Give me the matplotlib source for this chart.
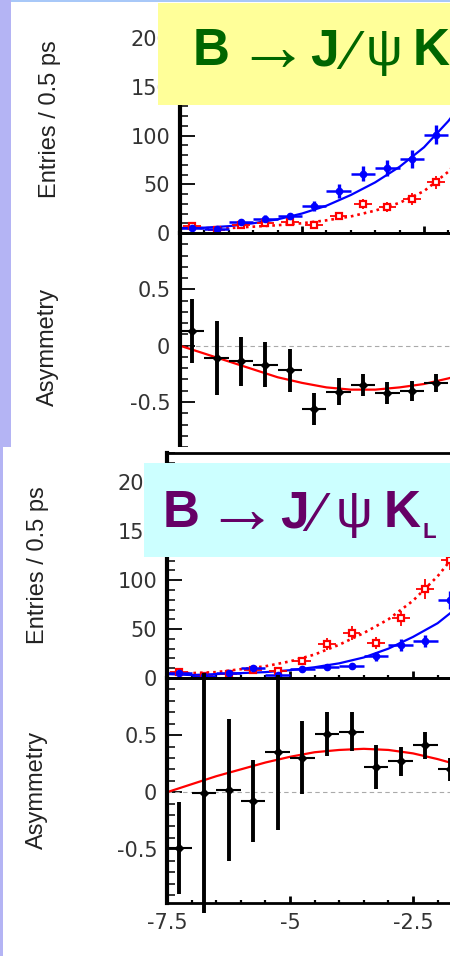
import numpy as np
import matplotlib
matplotlib.use('Agg')
import matplotlib.pyplot as plt
from matplotlib.patches import Rectangle
from matplotlib.ticker import MultipleLocator
from matplotlib import font_manager

plt.rcParams['axes.unicode_minus'] = False

# ---- B -> J/psi K_S (upper block), entries per 0.5 ps bin ----
ks_bins = [-7.25, -6.75, -6.25, -5.75, -5.25, -4.75, -4.25, -3.75, -3.25, -2.75, -2.25]
ks_blue = [5, 4, 11, 14, 17, 28, 43, 61, 67, 76, 101]
ks_blue_err = [2, 2, 3, 4, 4, 5, 7, 8, 8, 9, 10]
ks_red = [7, 3, 8, 10, 11, 8, 17, 30, 27, 35, 52]
ks_red_err = [3, 2, 3, 3, 3, 3, 4, 5, 5, 6, 7]
ks_asym = [0.13, -0.11, -0.14, -0.17, -0.22, -0.56, -0.41, -0.35, -0.42, -0.40, -0.33]
ks_asym_err = [0.28, 0.33, 0.22, 0.20, 0.19, 0.14, 0.12, 0.10, 0.10, 0.09, 0.08]

# fit curves at these dt values
fit_dt = [-7.5, -7.0, -6.5, -6.0, -5.5, -5.0, -4.5, -4.0, -3.5, -3.0, -2.5, -2.0, -1.5]
ks_fit_blue = [5, 5.5, 7, 10, 14, 20, 28, 39, 52, 68, 88, 115, 148]
ks_fit_red = [5, 5, 5, 6.5, 8, 10, 13, 17, 23, 31, 43, 63, 93]
ks_fit_asym = [0, -0.07, -0.14, -0.21, -0.28, -0.33, -0.37, -0.39, -0.39, -0.37, -0.34, -0.29, -0.23]

# ---- B -> J/psi K_L (lower block) ----
kl_bins = [-7.25, -6.75, -6.25, -5.75, -5.25, -4.75, -4.25, -3.75, -3.25, -2.75, -2.25, -1.75]
kl_blue = [5, 2, 5, 10, 3, 9, 11, 12, 22, 34, 38, 80]
kl_blue_err = [2, 1, 2, 3, 2, 3, 3, 3, 5, 6, 6, 9]
kl_red = [6, 2, 4, 8, 7, 17, 35, 46, 36, 61, 91, 121]
kl_red_err = [2, 1, 2, 3, 3, 4, 6, 7, 6, 8, 10, 11]
kl_asym = [-0.49, -0.01, 0.02, -0.08, 0.35, 0.30, 0.51, 0.53, 0.22, 0.27, 0.41, 0.20]
kl_asym_err = [0.40, 1.05, 0.62, 0.36, 0.68, 0.32, 0.19, 0.17, 0.19, 0.13, 0.12, 0.10]
kl_fit_blue = [4, 3, 4, 5, 6, 8, 11, 15, 21, 30, 42, 56, 76]
kl_fit_red = [5, 5, 6, 9, 12, 17, 24, 34, 46, 60, 79, 104, 135]
kl_fit_asym = [0, 0.07, 0.14, 0.20, 0.26, 0.31, 0.35, 0.37, 0.38, 0.37, 0.34, 0.29, 0.23]

entries_ticks = [0, 50, 100, 150, 200]
entries_labels = ['0', '50', '100', '150', '200']
asym_ticks = [-0.5, 0, 0.5, 1.0]
asym_labels = ['-0.5', '0', '0.5', '']
# the plot runs on past the right edge of the slide; only the visible labels are written
x_ticks = [-7.5, -5, -2.5, 0, 2.5, 5, 7.5]
x_labels = ['-7.5', '-5', '-2.5', '', '', '', '']
half_bin = 0.25

W, H = 450, 956
names = {f.name for f in font_manager.fontManager.ttflist}
narrow = 'Liberation Sans Narrow' if 'Liberation Sans Narrow' in names else 'Liberation Sans'
label_size = 20 if narrow == 'Liberation Sans Narrow' else 17


def px_box(left, top, right, bottom):
    return [left / W, 1 - bottom / H, (right - left) / W, (bottom - top) / H]


def style_axes(ax, ylim, ticks, labels, minor):
    ax.set_xlim(-7.5, 7.5)
    ax.set_ylim(*ylim)
    ax.set_facecolor('none')
    ax.set_xticks(x_ticks, x_labels)
    ax.xaxis.set_minor_locator(MultipleLocator(0.5))
    ax.set_yticks(ticks, labels)
    ax.yaxis.set_minor_locator(MultipleLocator(minor))
    ax.tick_params(axis='x', which='major', direction='in', length=5, width=2,
                   labelbottom=False, labelsize=15, pad=7, labelcolor='#333333')
    ax.tick_params(axis='x', which='minor', direction='in', length=2.2, width=1.6)
    ax.tick_params(axis='y', which='major', direction='in', length=11, width=1.3,
                   labelsize=15, pad=7, labelcolor='#333333')
    ax.tick_params(axis='y', which='minor', direction='in', length=5.5, width=1.1)
    for tl in ax.get_xticklabels() + ax.get_yticklabels():
        tl.set_family('DejaVu Sans')
    ax.spines['top'].set_linewidth(2)
    ax.spines['bottom'].set_linewidth(2)
    ax.spines['left'].set_linewidth(3)
    ax.spines['right'].set_visible(False)


def draw_entries(ax, bins, blue, blue_err, red, red_err, fit_blue, fit_red):
    ax.plot(fit_dt, fit_red, color='red', lw=1.9, ls=(0, (1, 1.5)))
    ax.plot(fit_dt, fit_blue, color='blue', lw=1.6)
    ax.errorbar(bins, red, yerr=red_err, xerr=0.18, fmt='s', ms=5, mfc='white',
                mec='red', mew=1.6, ecolor='red', elinewidth=1.3, capsize=0)
    ax.errorbar(bins, blue, yerr=blue_err, fmt='none', ecolor='blue', elinewidth=2.4)
    ax.errorbar(bins, blue, xerr=half_bin, fmt='o', ms=4.5, color='blue', elinewidth=1.8)


def draw_asym(ax, bins, asym, asym_err, fit_asym):
    ax.axhline(0, color='#aaaaaa', lw=0.8, ls=(0, (4, 3)))
    ax.plot(fit_dt, fit_asym, color='red', lw=1.6)
    eb = ax.errorbar(bins, asym, yerr=asym_err, fmt='none', ecolor='black', elinewidth=2.8)
    for c in eb[2]:
        c.set_clip_on(False)
    ax.errorbar(bins, asym, xerr=half_bin, fmt='D', ms=4, color='black', elinewidth=1.5)


fig = plt.figure(figsize=(4.5, 9.56), dpi=100)
fig.patch.set_facecolor('white')

# upper block
ax1 = fig.add_axes(px_box(180, 9, 912, 233))
ax2 = fig.add_axes(px_box(180, 233, 912, 455))
style_axes(ax1, (0, 230), entries_ticks, entries_labels, 10)
style_axes(ax2, (-0.97, 1.0), asym_ticks, asym_labels, 0.1)
draw_entries(ax1, ks_bins, ks_blue, ks_blue_err, ks_red, ks_red_err, ks_fit_blue, ks_fit_red)
draw_asym(ax2, ks_bins, ks_asym, ks_asym_err, ks_fit_asym)

# lower block sits on top of the upper one
fig.add_artist(Rectangle((3 / W, 0), 1, 1 - 447 / H, transform=fig.transFigure,
                         facecolor='white', edgecolor='none', zorder=1))
ax3 = fig.add_axes(px_box(167, 453, 905, 678), zorder=2)
ax4 = fig.add_axes(px_box(167, 678, 905, 903), zorder=2)
style_axes(ax3, (0, 230), entries_ticks, entries_labels, 10)
style_axes(ax4, (-0.97, 1.0), asym_ticks, asym_labels, 0.1)
ax4.tick_params(axis='x', labelbottom=True)
draw_entries(ax3, kl_bins, kl_blue, kl_blue_err, kl_red, kl_red_err, kl_fit_blue, kl_fit_red)
draw_asym(ax4, kl_bins, kl_asym, kl_asym_err, kl_fit_asym)

# axis titles
for x, y, s in [(50, 119, 'Entries / 0.5 ps'), (48, 347, 'Asymmetry'),
                (38, 565, 'Entries / 0.5 ps'), (37, 790, 'Asymmetry')]:
    fig.text(x / W, 1 - y / H, s, rotation=90, ha='center', va='center',
             fontsize=label_size, family=narrow, color='#222222', zorder=4)

# slide decoration
fig.add_artist(Rectangle((0, 1 - 447 / H), 11 / W, 447 / H, transform=fig.transFigure,
                         facecolor='#b4b4f4', edgecolor='none', zorder=3))
fig.add_artist(Rectangle((0, 0), 3 / W, 1 - 447 / H, transform=fig.transFigure,
                         facecolor='#b4b4f4', edgecolor='none', zorder=3))
fig.add_artist(Rectangle((11 / W, 1 - 2 / H), 1, 2 / H, transform=fig.transFigure,
                         facecolor='#a8c8f8', edgecolor='none', zorder=3))

# title boxes
fig.add_artist(Rectangle((158 / W, 1 - 105 / H), 1, 102 / H, transform=fig.transFigure,
                         facecolor='#ffff99', edgecolor='none', zorder=5))
fig.add_artist(Rectangle((144 / W, 1 - 557 / H), 1, 94 / H, transform=fig.transFigure,
                         facecolor='#ccffff', edgecolor='none', zorder=5))

title_font = ['Liberation Sans', 'DejaVu Sans']


def title(base, col, xs, sub=None):
    # pieces of "B -> J/psi K(sub)", placed along one baseline (pixels from the top)
    xb, xa, xj, xsl, xp, xk, xsub = xs
    kw = dict(color=col, family=title_font, zorder=6, va='baseline')
    fig.text(xb / W, 1 - base / H, 'B', fontsize=37, fontweight='bold', ha='left', **kw)
    fig.text(xa / W, 1 - (base - 14) / H, '\u2192', fontsize=52, fontweight='bold',
             ha='center', color=col, family=title_font, zorder=6, va='center')
    fig.text(xj / W, 1 - base / H, 'J', fontsize=37, fontweight='bold', ha='left', **kw)
    fig.text(xsl / W, 1 - (base + 4) / H, '\u2044', fontsize=40, ha='center', **kw)
    fig.text(xp / W, 1 - base / H, '\u03c8', fontsize=37, ha='left', **kw)
    fig.text(xk / W, 1 - base / H, 'K', fontsize=37, fontweight='bold', ha='left', **kw)
    if sub:
        fig.text(xsub / W, 1 - (base + 11) / H, sub, fontsize=16, fontweight='bold',
                 ha='left', **kw)


title(65, '#006600', (193, 272, 310, 352, 366, 413, None))
title(527, '#660066', (163, 241, 280, 318, 336, 384, 422), 'L')

fig.savefig('out.png', dpi=100)
